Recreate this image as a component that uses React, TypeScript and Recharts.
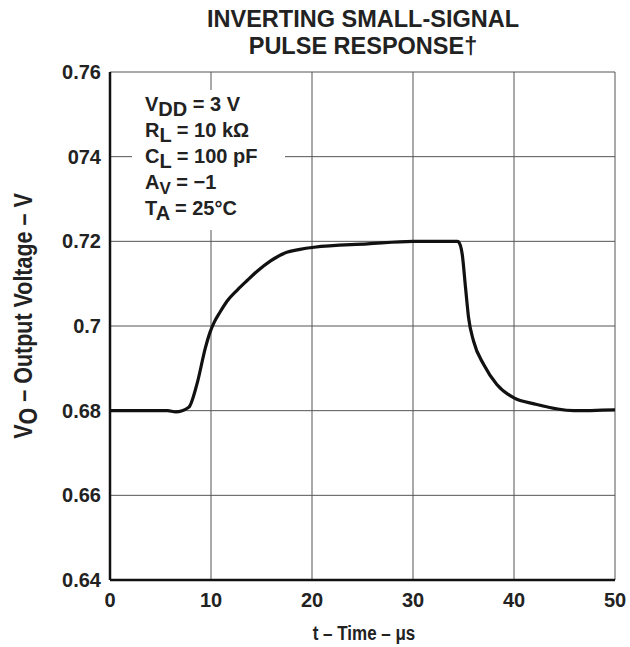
import React from 'react';
import { LineChart, Line, XAxis, YAxis, CartesianGrid } from 'recharts';

// values
const timeUs = [0, 5.7, 6.5, 7.8, 8.6, 9.45, 9.9, 10.3, 10.9, 11.6, 12.6, 13.6, 14.6, 15.9, 17.5, 18.8, 20.2, 25.5, 30, 34.4, 34.5, 34.87, 35.2, 35.5, 36.0, 37.0, 38.3, 40.0, 42.0, 45.9, 50];
const outputV = [0.68, 0.68, 0.6797, 0.6808, 0.6862, 0.6949, 0.6985, 0.7008, 0.7033, 0.7059, 0.7085, 0.7108, 0.713, 0.7154, 0.7174, 0.7181, 0.7186, 0.7194, 0.72, 0.72, 0.7199, 0.717, 0.7091, 0.702, 0.6964, 0.6909, 0.6862, 0.683, 0.6816, 0.68, 0.6802];

const xTicks = [0, 10, 20, 30, 40, 50];
const yTicks = [0.64, 0.66, 0.68, 0.7, 0.72, 0.74, 0.76];
const yTickLabels = ['0.64', '0.66', '0.68', '0.7', '0.72', '074', '0.76'];

const data = timeUs.map((t, i) => ({ t, v: outputV[i] }));

const font = 'Liberation Sans, Arial, sans-serif';
const tickStyle = { fontFamily: font, fontWeight: 700, fontSize: 20, fill: '#222' };

export default function App() {
  return (
    <div style={{ position: 'absolute', left: 0, top: 0, width: 630, height: 647, background: '#fff' }}>
      <LineChart width={630} height={647} data={data} margin={{ top: 72, right: 15, bottom: 0, left: 0 }} style={{ overflow: 'visible' }}>
        <CartesianGrid stroke="#555" strokeWidth={1} />
        <XAxis
          dataKey="t"
          type="number"
          domain={[0, 50]}
          ticks={xTicks}
          height={67}
          tickLine={false}
          tickSize={0}
          tickMargin={13}
          axisLine={{ stroke: '#111', strokeWidth: 2.5 }}
          tick={tickStyle}
        />
        <XAxis xAxisId="top" orientation="top" dataKey="t" type="number" domain={[0, 50]} height={0} tick={false} tickLine={false} axisLine={{ stroke: '#111', strokeWidth: 2.5 }} />
        <YAxis
          type="number"
          domain={[0.64, 0.76]}
          ticks={yTicks}
          width={110}
          tickLine={false}
          tickSize={0}
          tickMargin={9}
          axisLine={{ stroke: '#111', strokeWidth: 2.5 }}
          tick={tickStyle}
          tickFormatter={(v: number) => yTickLabels[yTicks.findIndex((y) => Math.abs(y - v) < 1e-6)]}
        />
        <YAxis yAxisId="right" orientation="right" type="number" domain={[0.64, 0.76]} width={0} tick={false} tickLine={false} axisLine={{ stroke: '#111', strokeWidth: 2.5 }} />
        <Line type="monotone" dataKey="v" stroke="#111" strokeWidth={3.2} dot={false} isAnimationActive={false} />
      </LineChart>
      <svg width={630} height={647} style={{ position: 'absolute', left: 0, top: 0, pointerEvents: 'none' }}>
        <g fontFamily={font} fontWeight={700} fill="#222">
          <text x={363} y={27} fontSize={23.5} textAnchor="middle">INVERTING SMALL-SIGNAL</text>
          <text x={363} y={54} fontSize={23.5} textAnchor="middle">PULSE RESPONSE†</text>
          <text transform="translate(364,640) scale(1,1.15)" fontSize={17} textAnchor="middle">t – Time – μs</text>
          <text transform="translate(32,316) rotate(-90) scale(1,1.2)" fontSize={21.5} textAnchor="middle">
            V<tspan dy={4}>O</tspan><tspan dy={-4}> – Output Voltage – V</tspan>
          </text>
          <rect x={132} y={90} width={153} height={140} fill="#fff" />
          <g fontSize={20}>
            <text x={145} y={111}>V<tspan dy={5}>DD</tspan><tspan dy={-5}> = 3 V</tspan></text>
            <text x={145} y={137}>R<tspan dy={5}>L</tspan><tspan dy={-5}> = 10 kΩ</tspan></text>
            <text x={145} y={163}>C<tspan dy={5}>L</tspan><tspan dy={-5}> = 100  pF</tspan></text>
            <text x={145} y={189}>A<tspan dy={5} fontSize={17}>V</tspan><tspan dy={-5}> = −1</tspan></text>
            <text x={145} y={215}>T<tspan dy={5}>A</tspan><tspan dy={-5}> = 25°C</tspan></text>
          </g>
        </g>
      </svg>
    </div>
  );
}
